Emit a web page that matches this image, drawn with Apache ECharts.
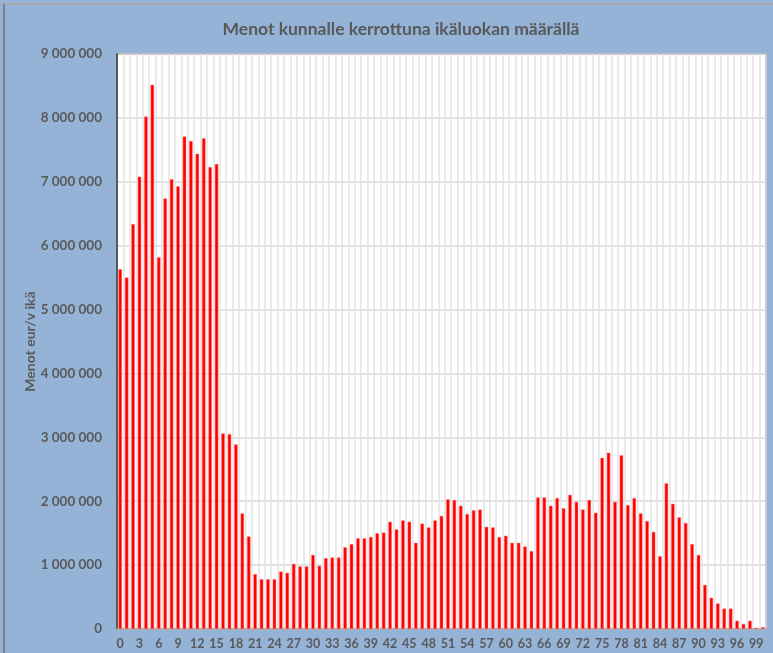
<!DOCTYPE html>
<html>
<head>
<meta charset="utf-8">
<script src="https://cdn.jsdelivr.net/npm/echarts@6/dist/echarts.min.js"></script>
<style>
  html, body { margin: 0; padding: 0; background: #fff; }
  #wrap {
    position: absolute; left: 0; top: 0; width: 773px; height: 653px;
    background: #95b3d7;
  }
  #frame {
    position: absolute; left: 3px; top: 3px; right: 0; bottom: 0;
    border-left: 2px solid #7f7f7f; border-top: 2px solid #a6a6a6;
  }
  #chart { position: absolute; left: 0; top: 0; width: 773px; height: 653px; }
</style>
</head>
<body>
<div id="wrap"><div id="frame"></div><div id="chart"></div></div>
<script>
const ages = [];
for (let i = 0; i <= 100; i++) ages.push(String(i));

// menot euroa, ikäluokittain 0..100
const menot = [
  5630000, 5500000, 6340000, 7080000, 8020000, 8520000, 5820000, 6740000, 7040000, 6930000,
  7710000, 7640000, 7440000, 7680000, 7230000, 7280000, 3060000, 3050000, 2890000, 1810000,
  1450000, 860000, 780000, 780000, 780000, 900000, 880000, 1020000, 980000, 980000,
  1160000, 990000, 1110000, 1120000, 1120000, 1280000, 1330000, 1420000, 1420000, 1440000,
  1500000, 1510000, 1680000, 1560000, 1700000, 1680000, 1350000, 1650000, 1590000, 1700000,
  1770000, 2030000, 2020000, 1930000, 1800000, 1860000, 1870000, 1600000, 1590000, 1440000,
  1460000, 1350000, 1350000, 1290000, 1220000, 2060000, 2060000, 1930000, 2050000, 1890000,
  2100000, 1990000, 1870000, 2020000, 1820000, 2680000, 2760000, 1990000, 2720000, 1940000,
  2050000, 1810000, 1690000, 1520000, 1140000, 2280000, 1960000, 1750000, 1660000, 1330000,
  1160000, 690000, 490000, 400000, 320000, 320000, 130000, 80000, 130000, 20000,
  30000
];

const yMax = 9000000;
const yStep = 1000000;

const fmt = v => String(v).replace(/\B(?=(\d{3})+(?!\d))/g, ' ');

const chart = echarts.init(document.getElementById('chart'));
chart.setOption({
  animation: false,
  textStyle: { fontFamily: 'Lato' },
  title: {
    text: 'Menot kunnalle kerrottuna ikäluokan määrällä',
    left: 396,
    textAlign: 'center',
    top: 15,
    textStyle: { fontFamily: 'Lato', fontSize: 17.5, fontWeight: 'bold', color: '#595959' }
  },
  grid: {
    left: 117, right: 7, top: 54, bottom: 24,
    show: true, backgroundColor: '#fff', borderColor: '#333', borderWidth: 1
  },
  xAxis: {
    type: 'category',
    data: ages,
    axisLine: { lineStyle: { color: '#a6a6a6', width: 1.5 } },
    axisTick: { show: false },
    axisLabel: { interval: 2, margin: 8, fontSize: 12.5, fontWeight: 'bold', color: '#595959' },
    splitLine: { show: true, interval: 0, lineStyle: { color: '#e3e3e3', width: 1.5 } }
  },
  yAxis: {
    type: 'value',
    min: 0, max: yMax, interval: yStep,
    name: 'Menot eur/v ikä',
    nameLocation: 'middle',
    nameGap: 80,
    nameMoveOverlap: false,
    nameTextStyle: { fontFamily: 'Lato', fontSize: 14, fontWeight: 'bold', color: '#595959' },
    axisLine: { show: true, lineStyle: { color: '#333', width: 1.5 } },
    axisTick: { show: false },
    axisLabel: { margin: 15, fontSize: 13.5, fontWeight: 'bold', color: '#595959', formatter: fmt },
    splitLine: { lineStyle: { color: '#d9d9d9', width: 1.5 } }
  },
  series: [{
    type: 'bar',
    data: menot,
    barWidth: '55%',
    itemStyle: { color: '#ff0000', borderColor: '#ff8080', borderWidth: 0.5 }
  }]
});
</script>
</body>
</html>
